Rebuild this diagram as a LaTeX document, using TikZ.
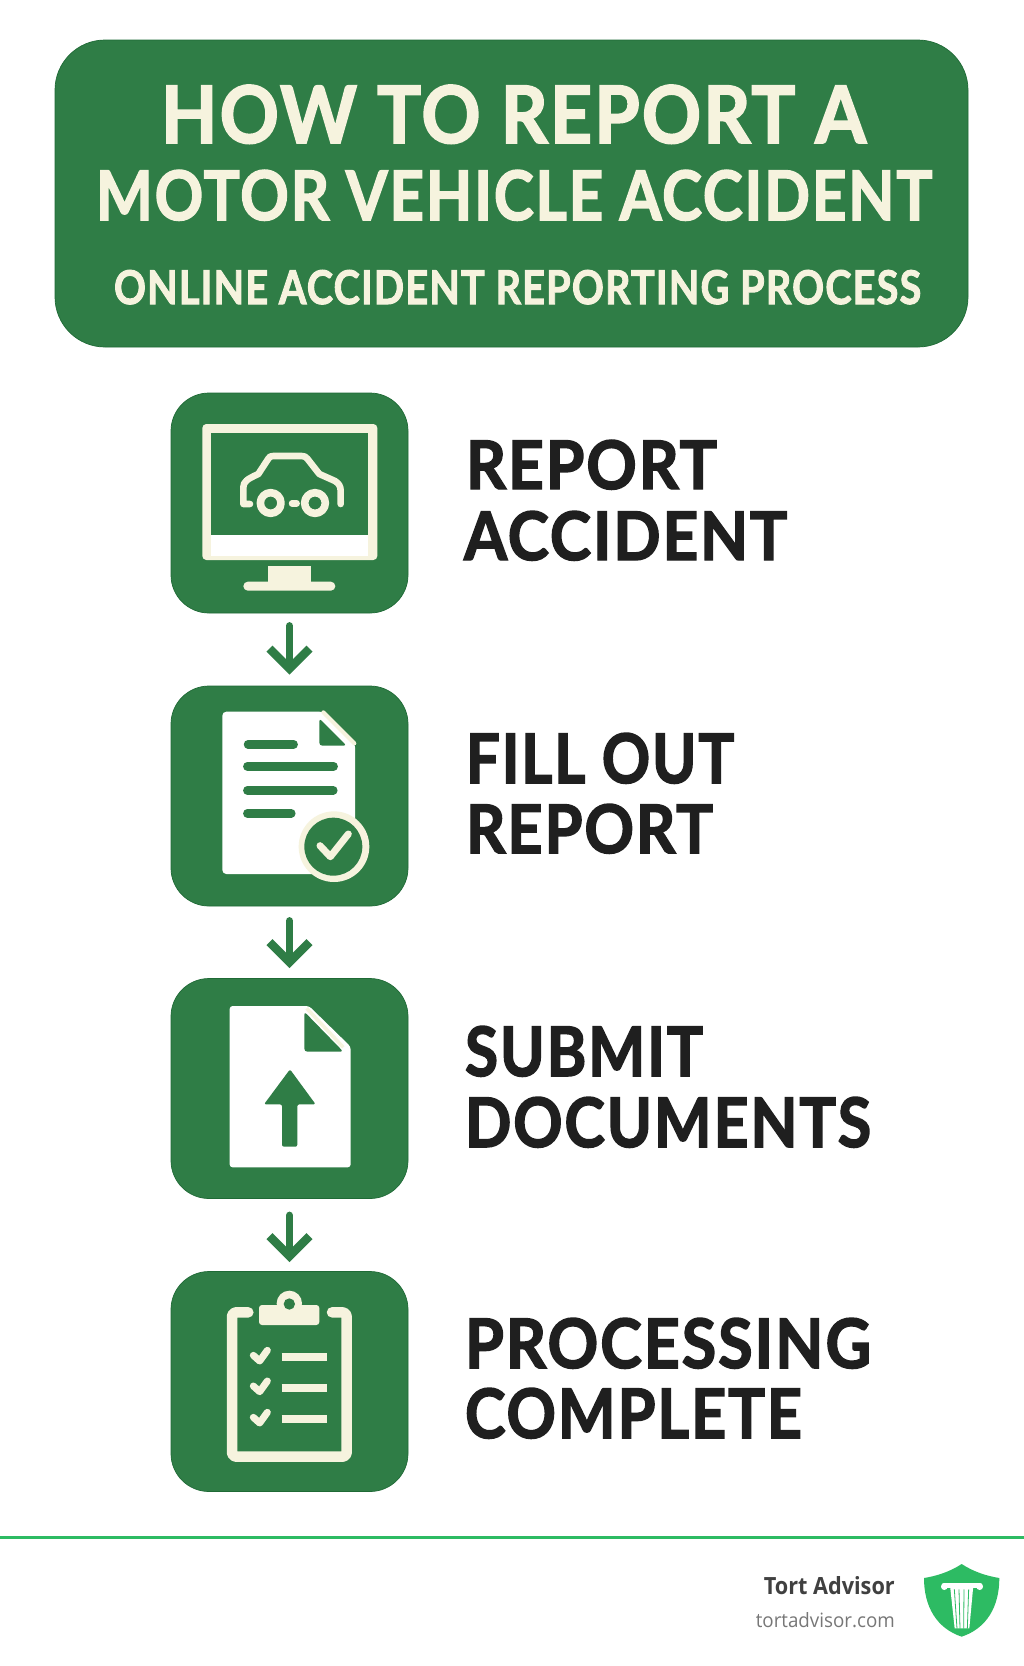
\documentclass[tikz,border=0pt]{standalone}
\usepackage{fontspec}
\usepackage{graphicx}
\usetikzlibrary{arrows.meta}
\setmainfont{Lato}
\newfontfamily\headfont{Lato}[FakeBold=2.2,LetterSpace=3,Ligatures=NoCommon]
\newfontfamily\footfont{Open Sans}
\definecolor{brandgreen}{HTML}{2F7D46}
\definecolor{edgegreen}{HTML}{1F6A36}
\definecolor{cream}{HTML}{F6F3DE}
\definecolor{ink}{HTML}{1F1F1F}
\definecolor{logogreen}{HTML}{2DBB63}
\definecolor{footdark}{HTML}{404040}
\definecolor{footgrey}{HTML}{777777}
\tikzset{
  iconbox/.style={draw=edgegreen,line width=0.7pt,fill=brandgreen,rounded corners=38pt,minimum width=237pt,minimum height=220pt,inner sep=0pt},
  titlebox/.style={draw=edgegreen,line width=0.7pt,fill=brandgreen,rounded corners=50pt,minimum width=913pt,minimum height=307pt,inner sep=0pt},
  fitlabel/.style={anchor=base west,inner sep=0pt,outer sep=0pt,font=\headfont\bfseries},
  flowarrow/.style={draw=brandgreen,line width=7.5pt,line cap=round,-{Straight Barb[length=20pt,width=40pt,line width=8.5pt]}},
  creamline/.style={draw=cream,line cap=round,line join=round},
  greenline/.style={draw=brandgreen,line cap=round,line join=round},
  zoomed/.style={x=0.33333pt,y=-0.33333pt}
}
\newcommand{\fitted}[3]{\resizebox{#1pt}{#2pt}{#3}}
\begin{document}
\begin{tikzpicture}[x=1pt,y=-1pt]
\useasboundingbox (0,0) rectangle (1024,1666);
\fill[white] (0,0) rectangle (1024,1666);

% title
\node[titlebox] (title) at (511.5,193.5) {};
\node[fitlabel,text=cream] (t1) at (161,143) {\fitted{705}{58}{HOW TO REPORT A}};
\node[fitlabel,text=cream] (t2) at (96,220) {\fitted{836}{50}{MOTOR VEHICLE ACCIDENT}};
\node[fitlabel,text=cream] (t3) at (114,304) {\fitted{807}{34}{ONLINE ACCIDENT REPORTING PROCESS}};

% icon boxes
\node[iconbox] (box1) at (289.5,503) {};
\node[iconbox] (box2) at (289.5,796) {};
\node[iconbox] (box3) at (289.5,1088.5) {};
\node[iconbox] (box4) at (289.5,1381.5) {};

% connectors
\draw[flowarrow,shorten <=12.5pt,shorten >=11pt] (box1.south) -- (box2.north);
\draw[flowarrow,shorten <=14.5pt,shorten >=10pt] (box2.south) -- (box3.north);
\draw[flowarrow,shorten <=16.5pt,shorten >=9pt] (box3.south) -- (box4.north);

% labels
\node[fitlabel,text=ink] (l1a) at (466,489) {\fitted{251}{49}{REPORT}};
\node[fitlabel,text=ink] (l1b) at (464,560) {\fitted{323}{49}{ACCIDENT}};
\node[fitlabel,text=ink] (l2a) at (466,783) {\fitted{268}{50}{FILL OUT}};
\node[fitlabel,text=ink] (l2b) at (466,853) {\fitted{247}{49}{REPORT}};
\node[fitlabel,text=ink] (l3a) at (465,1076) {\fitted{238}{50}{SUBMIT}};
\node[fitlabel,text=ink] (l3b) at (465,1147) {\fitted{406}{50}{DOCUMENTS}};
\node[fitlabel,text=ink] (l4a) at (465,1368) {\fitted{406}{50}{PROCESSING}};
\node[fitlabel,text=ink] (l4b) at (465,1438) {\fitted{337}{50}{COMPLETE}};

% icon 1: monitor with car
\begin{scope}[shift={(160,380)},zoomed]
  \fill[cream,rounded corners=4pt] (127,132) rectangle (652,540);
  \fill[white] (153,465) rectangle (625,527);
  \fill[brandgreen] (153,160) rectangle (625,465);
  \fill[cream] (323,558) -- (453,558) -- (453,610) -- (323,610) -- cycle;
  \fill[cream,rounded corners=4.5pt] (250,605) rectangle (526,632);
  \draw[creamline,line width=6.6pt] (270,372) -- (250,372) -- (250,322) .. controls (250,305) and (262,297) .. (295,282) -- (325,236) .. controls (328,230) and (332,228) .. (340,228) -- (425,228) .. controls (433,228) and (437,230) .. (442,236) -- (478,282) -- (525,303) .. controls (536,310) and (542,318) .. (542,332) -- (542,372);
  \draw[creamline,line width=7.6pt] (332,369) circle (31);
  \draw[creamline,line width=7.6pt] (465,369) circle (31);
  \draw[creamline,line width=6.5pt] (396,370) -- (410,370);
\end{scope}

% icon 2: form with check
\begin{scope}[shift={(160,680)},zoomed]
  \fill[white,rounded corners=4pt] (187,95) -- (490,95) -- (585,190) -- (585,582) -- (187,582) -- cycle;
  \draw[draw=cream,line width=4pt,line cap=round] (490,97) -- (583,190);
  \fill[brandgreen,rounded corners=3pt] (478,115) -- (560,197) -- (478,197) -- cycle;
  \draw[greenline,line width=8.5pt] (264,193) -- (401,193);
  \draw[greenline,line width=8.5pt] (262,259) -- (521,259);
  \draw[greenline,line width=8.5pt] (262,331) -- (520,331);
  \draw[greenline,line width=8.5pt] (262,400) -- (394,400);
  \fill[cream] (522,500) circle (106);
  \fill[brandgreen] (520,500) circle (87);
  \draw[creamline,line width=7pt] (480,497) -- (511,530) -- (565,462);
\end{scope}

% icon 3: upload
\begin{scope}[shift={(160,970)},zoomed]
  \fill[white,rounded corners=3pt] (209,108) -- (447,108) -- (572,230) -- (572,592) -- (209,592) -- cycle;
  \draw[draw=cream,line width=3.5pt] (440,115) -- (550,232);
  \fill[brandgreen,rounded corners=3pt] (433,125) -- (550,245) -- (433,245) -- cycle;
  \fill[brandgreen,rounded corners=2pt] (390,298) -- (467,403) -- (412,403) -- (412,530) -- (366,530) -- (366,403) -- (312,403) -- cycle;
\end{scope}

% icon 4: checklist
\begin{scope}[shift={(160,1260)},zoomed]
  \draw[creamline,line width=10.5pt,rounded corners=4pt] (265,157) -- (216,157) -- (216,590) -- (560,590) -- (560,157) -- (516,157);
  \fill[cream] (388,130) circle (38);
  \fill[cream,rounded corners=3pt] (297,135) rectangle (478,195);
  \fill[brandgreen] (388,132) circle (17);
  \foreach \dy in {0,92,186} {
    \draw[creamline,line width=7pt,shift={(0,\dy)}] (280,286) -- (299,303) -- (322,271);
    \draw[draw=cream,line width=8pt,shift={(0,\dy)}] (365,291) -- (502,291);
  }
\end{scope}

% footer
\draw[draw=logogreen,line width=3pt] (0,1537) -- (1024,1537);
\node[anchor=base east,inner sep=0pt,font=\footfont\bfseries,text=footdark] (brand) at (895,1594) {\fitted{131}{18}{Tort Advisor}};
\node[anchor=base east,inner sep=0pt,font=\footfont,text=footgrey] (site) at (895,1627) {\fitted{139}{15}{tortadvisor.com}};

% shield
\begin{scope}[shift={(740,1520)},zoomed]
  \fill[logogreen] (665,132) .. controls (630,155) and (590,168) .. (552,174) .. controls (552,260) and (590,325) .. (665,350) .. controls (740,325) and (778,260) .. (778,174) .. controls (740,168) and (700,155) .. (665,132) -- cycle;
  \fill[white] (630,196) -- (700,196) -- (688,325) -- (644,325) -- cycle;
  \draw[draw=white,line width=5pt,line cap=round] (612,196) -- (720,196);
  \fill[white] (613,200) circle (10);
  \fill[white] (719,200) circle (10);
  \foreach \sx/\ex in {643/651,657/660,672/671,686/682} {
    \draw[draw=logogreen,line width=0.8pt] (\sx,208) -- (\ex,326);
  }
\end{scope}
\end{tikzpicture}
\end{document}
